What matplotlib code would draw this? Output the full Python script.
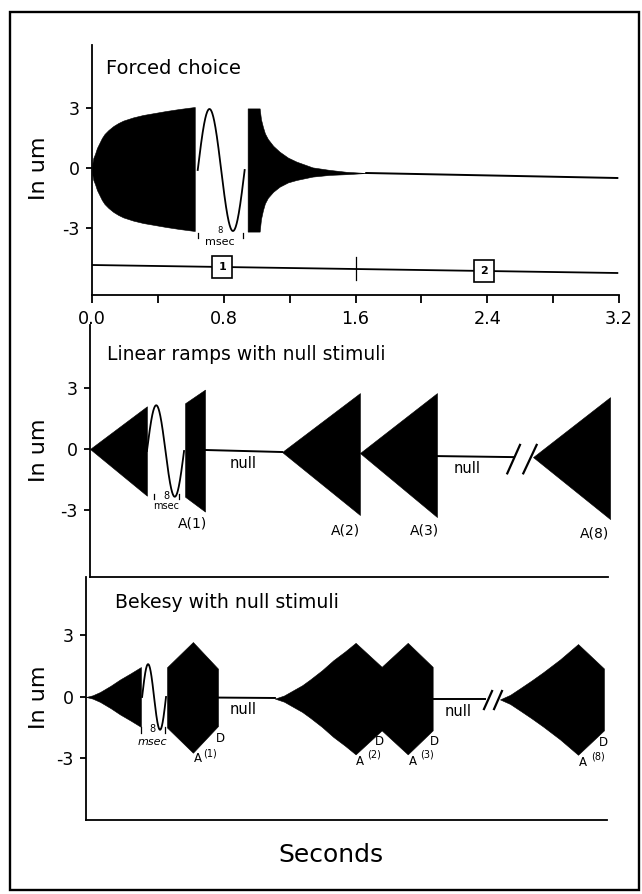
import matplotlib
matplotlib.use("Agg")
import matplotlib.pyplot as plt
import numpy as np
from matplotlib.patches import Rectangle

W, H, DPI = 642, 894, 100

# ---------------- Forced choice (seconds, um) ----------------
fc_rise_t = [0.0, 0.002, 0.008, 0.018, 0.03, 0.045, 0.06, 0.076, 0.1, 0.13,
             0.16, 0.19, 0.25, 0.31, 0.38, 0.45, 0.53, 0.624]
fc_rise_amp = [0.0, 0.28, 0.55, 0.75, 1.05, 1.3, 1.55, 1.75, 1.95, 2.15,
               2.3, 2.42, 2.58, 2.7, 2.8, 2.9, 3.0, 3.1]
fc_rise_mid = -0.05
fc_cycle = [0.642, 0.927, 3.05, -0.1]          # start, end, amplitude, midline
fc_decay_t = [0.945, 1.018, 1.026, 1.038, 1.05, 1.068, 1.10, 1.139, 1.19,
              1.241, 1.339, 1.442, 1.544, 1.665]
fc_decay_amp = [3.08, 3.08, 2.5, 2.08, 1.75, 1.47, 1.15, 0.875, 0.62,
                0.46, 0.23, 0.125, 0.06, 0.0]
fc_decay_mid = [-0.1, -0.1, -0.06, -0.03, -0.02, -0.02, -0.04, -0.06, -0.1,
                -0.14, -0.2, -0.22, -0.25, -0.25]
fc_tail_t = [1.665, 3.19]
fc_tail_y = [-0.25, -0.5]
fc_timeline_t = [0.0, 3.19]
fc_timeline_y = [-4.85, -5.25]
fc_interval_labels = ["1", "2"]
fc_interval_t = [0.79, 2.38]
fc_mark_t = 1.6
fc_msec_ticks = [0.642, 0.915]

x_ticks = [0.0, 0.8, 1.6, 2.4, 3.2]
x_ticklabels = ["0.0", "0.8", "1.6", "2.4", "3.2"]
x_minor = [0.4, 1.2, 2.0, 2.8]
y_ticks = [-3, 0, 3]
y_ticklabels = ["-3", "0", "3"]

# ---------------- Linear ramps with null stimuli ----------------
lr_ramp_t0 = [0.0, 0.576, 1.164, 1.636, 2.685]
lr_ramp_t1 = [0.345, 0.697, 1.636, 2.103, 3.152]
lr_ramp_a0 = [0.0, 2.3, 0.0, 0.0, 0.0]
lr_ramp_a1 = [2.2, 3.0, 3.0, 3.05, 3.0]
lr_ramp_m0 = [0.0, -0.05, -0.15, -0.2, -0.4]
lr_ramp_m1 = [-0.1, -0.08, -0.25, -0.3, -0.45]
lr_cycle = [0.345, 0.57, 2.25, -0.1]
lr_null_t = [[0.697, 1.164], [2.103, 2.564]]
lr_null_y = [[-0.05, -0.15], [-0.35, -0.4]]
lr_break_t = [[2.529, 2.606], [2.626, 2.707]]
lr_break_y = [-1.2, 0.2]
lr_labels = ["A(1)", "A(2)", "A(3)", "A(8)"]
lr_label_t = [0.624, 1.55, 2.03, 3.06]
lr_label_y = [-3.65, -4.0, -4.0, -4.14]
lr_null_label_t = [0.93, 2.285]
lr_null_label_y = [-0.7, -0.94]
lr_msec_ticks = [0.388, 0.539]

# ---------------- Bekesy with null stimuli ----------------
bk_env_t = [
    [0.0, 0.04, 0.085, 0.15, 0.206, 0.27, 0.333],
    [0.491, 0.648, 0.8],
    [1.145, 1.2, 1.257, 1.31, 1.358, 1.43, 1.499, 1.57, 1.634, 1.792, 1.95, 2.101],
    [2.509, 2.57, 2.63, 2.70, 2.77, 2.873, 2.982, 3.139],
]
bk_env_amp = [
    [0.0, 0.08, 0.24, 0.55, 0.85, 1.15, 1.46],
    [1.47, 2.7, 1.4],
    [0.0, 0.15, 0.41, 0.65, 0.93, 1.38, 1.87, 2.3, 2.72, 1.55, 2.72, 1.55],
    [0.0, 0.22, 0.54, 0.92, 1.32, 1.95, 2.7, 1.51],
]
bk_env_mid = [0.0, -0.02, -0.08, -0.12]
bk_cycle = [0.34, 0.485, 1.6, 0.0]
bk_null_t = [[0.8, 1.145], [2.101, 2.418]]
bk_null_y = [[-0.03, -0.05], [-0.1, -0.1]]
bk_break_t = [[2.412, 2.461], [2.473, 2.521]]
bk_break_y = [-0.59, 0.29]
bk_d_t = [0.812, 1.776, 2.11, 3.133]
bk_d_y = [-2.05, -2.15, -2.15, -2.2]
bk_a_t = [0.681, 1.66, 1.98, 3.012]
bk_a_y = [-2.99, -3.17, -3.17, -3.22]
bk_sup = ["(1)", "(2)", "(3)", "(8)"]
bk_sup_t = [0.752, 1.745, 2.067, 3.103]
bk_sup_y = [-2.75, -2.83, -2.83, -2.88]
bk_null_label_t = [0.952, 2.255]
bk_null_label_y = [-0.63, -0.73]
bk_msec_ticks = [0.333, 0.479]

LW = 1.3
fig = plt.figure(figsize=(W / DPI, H / DPI), dpi=DPI)
fig.patch.set_facecolor("white")


def make_axes(left, right, top, bottom):
    return fig.add_axes([left / W, 1 - bottom / H, (right - left) / W, (bottom - top) / H])


def style(ax, xmax, ylim):
    ax.set_xlim(0, xmax)
    ax.set_ylim(*ylim)
    for s in ("top", "right"):
        ax.spines[s].set_visible(False)
    for s in ("left", "bottom"):
        ax.spines[s].set_linewidth(LW)
    ax.set_yticks(y_ticks)
    ax.set_yticklabels(y_ticklabels, fontsize=12.5)
    ax.tick_params(axis="y", direction="out", length=4, width=LW, pad=5)
    ax.patch.set_alpha(0)


def draw_cycle(ax, cyc):
    t0, t1, amp, mid = cyc
    t = np.linspace(t0, t1, 200)
    ax.plot(t, mid + amp * np.sin(2 * np.pi * (t - t0) / (t1 - t0)),
            color="black", lw=LW, clip_on=False)


def fill_env(ax, t, amp, mid):
    t = np.asarray(t, float)
    amp = np.asarray(amp, float)
    mid = np.broadcast_to(np.asarray(mid, float), t.shape)
    ax.fill_between(t, mid - amp, mid + amp, color="black", lw=0.4,
                    edgecolor="black", clip_on=False)


# ---- top panel ----
ax1 = make_axes(92, 619, 45, 295)
style(ax1, 3.2, (-6.35, 6.15))
ax1.set_xticks(x_ticks)
ax1.set_xticklabels(x_ticklabels, fontsize=12.7)
ax1.set_xticks(x_minor, minor=True)
ax1.tick_params(axis="x", which="both", direction="out", length=6, width=LW, pad=5)

fill_env(ax1, fc_rise_t, fc_rise_amp, fc_rise_mid)
draw_cycle(ax1, fc_cycle)
fill_env(ax1, fc_decay_t, fc_decay_amp, fc_decay_mid)
ax1.plot(fc_tail_t, fc_tail_y, color="black", lw=1.4)
ax1.plot(fc_timeline_t, fc_timeline_y, color="black", lw=LW)
ax1.plot([fc_mark_t, fc_mark_t], [-4.45, -5.6], color="black", lw=0.9)
for lab, t in zip(fc_interval_labels, fc_interval_t):
    y = np.interp(t, fc_timeline_t, fc_timeline_y)
    ax1.text(t, y, lab, fontsize=8, fontweight="bold", ha="center", va="center",
             bbox=dict(boxstyle="square,pad=0.55", fc="white", ec="black", lw=1.2))
for t in fc_msec_ticks:
    ax1.plot([t, t], [-3.25, -3.5], color="black", lw=0.9)
ax1.text(0.776, -3.12, "8", fontsize=6, ha="center", va="center")
ax1.text(0.776, -3.72, "msec", fontsize=8, ha="center", va="center")
ax1.text(0.088, 5.0, "Forced choice", fontsize=14, ha="left", va="center")

# ---- middle panel ----
ax2 = make_axes(90, 608, 325, 577)
style(ax2, (608 - 90) / 165, (-6.3, 6.1))
ax2.set_xticks([])
for t0, t1, a0, a1, m0, m1 in zip(lr_ramp_t0, lr_ramp_t1, lr_ramp_a0, lr_ramp_a1,
                                  lr_ramp_m0, lr_ramp_m1):
    fill_env(ax2, [t0, t1], [a0, a1], [m0, m1])
draw_cycle(ax2, lr_cycle)
for t, y in zip(lr_null_t, lr_null_y):
    ax2.plot(t, y, color="black", lw=1.4)
for t in lr_break_t:
    ax2.plot(t, lr_break_y, color="black", lw=1.6, clip_on=False)
for lab, t, y in zip(lr_labels, lr_label_t, lr_label_y):
    ax2.text(t, y, lab, fontsize=10, ha="center", va="center")
for t, y in zip(lr_null_label_t, lr_null_label_y):
    ax2.text(t, y, "null", fontsize=10.5, ha="center", va="center")
for t in lr_msec_ticks:
    ax2.plot([t, t], [-2.22, -2.46], color="black", lw=0.9)
ax2.text(0.465, -2.32, "8", fontsize=7, ha="center", va="center")
ax2.text(0.461, -2.82, "msec", fontsize=7, ha="center", va="center")
ax2.text(0.103, 4.63, "Linear ramps with null stimuli", fontsize=13.5,
         ha="left", va="center")

# ---- bottom panel ----
ax3 = make_axes(86, 607, 577, 820)
style(ax3, (607 - 86) / 165, (-6.0, 5.85))
ax3.set_xticks([])
for t, a, m in zip(bk_env_t, bk_env_amp, bk_env_mid):
    fill_env(ax3, t, a, m)
draw_cycle(ax3, bk_cycle)
for t, y in zip(bk_null_t, bk_null_y):
    ax3.plot(t, y, color="black", lw=1.4)
for t in bk_break_t:
    ax3.plot(t, bk_break_y, color="black", lw=1.6, clip_on=False)
for t, y in zip(bk_d_t, bk_d_y):
    ax3.text(t, y, "D", fontsize=8.5, ha="center", va="center")
for t, y in zip(bk_a_t, bk_a_y):
    ax3.text(t, y, "A", fontsize=8.5, ha="center", va="center")
for s, t, y in zip(bk_sup, bk_sup_t, bk_sup_y):
    ax3.text(t, y, s, fontsize=7, ha="center", va="center")
for t, y in zip(bk_null_label_t, bk_null_label_y):
    ax3.text(t, y, "null", fontsize=10.5, ha="center", va="center")
for t in bk_msec_ticks:
    ax3.plot([t, t], [-1.46, -1.76], color="black", lw=0.9)
ax3.text(0.4, -1.58, "8", fontsize=7, ha="center", va="center")
ax3.text(0.4, -2.18, "msec", fontsize=8, style="italic", ha="center", va="center")
ax3.text(0.176, 4.63, "Bekesy with null stimuli", fontsize=13.6,
         ha="left", va="center")

# ---- shared labels and frame ----
for yc in (168, 450, 697):
    fig.text(39 / W, 1 - yc / H, "In um", rotation=90, fontsize=16,
             ha="center", va="center")
fig.text(331 / W, 1 - 855 / H, "Seconds", fontsize=18, ha="center", va="center")
fig.patches.append(Rectangle((10 / W, 1 - 890 / H), 629 / W, 878 / H,
                             transform=fig.transFigure, fill=False,
                             lw=1.7, ec="black"))

fig.savefig("out.png", dpi=DPI, facecolor="white")
